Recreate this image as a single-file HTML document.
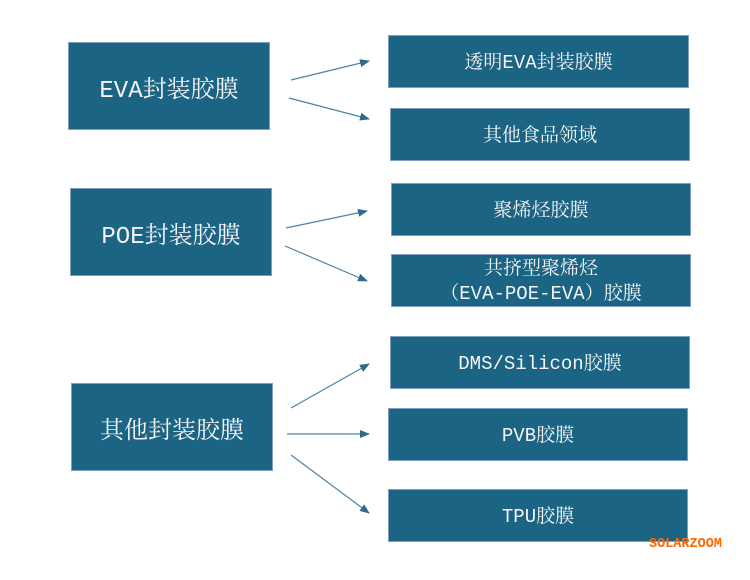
<!DOCTYPE html>
<html><head><meta charset="utf-8"><style>
body{margin:0;width:750px;height:580px;background:#fff;position:relative;overflow:hidden;font-family:"Liberation Mono","Noto Serif CJK SC","Noto Sans CJK SC",monospace;}
.b{position:absolute;background:#1c6484;border:1px solid #7f9fbf;box-sizing:border-box;color:#f4f4f4;display:flex;align-items:center;justify-content:center;text-align:center;padding-top:4px;}
.l{font-size:24px;padding-top:2px;}
.r{font-size:19px;line-height:25px;}
.s{position:absolute;left:649px;top:537px;color:#ff6600;font-family:"Liberation Mono",monospace;font-size:13.5px;font-weight:bold;}
</style></head><body>
<div class="b l" style="left:68px;top:42px;width:202px;height:88px">EVA封装胶膜</div>
<div class="b l" style="left:70px;top:188px;width:202px;height:88px">POE封装胶膜</div>
<div class="b l" style="left:71px;top:383px;width:202px;height:88px">其他封装胶膜</div>
<div class="b r" style="left:388px;top:35px;width:301px;height:53px">透明EVA封装胶膜</div>
<div class="b r" style="left:390px;top:108px;width:300px;height:53px">其他食品领域</div>
<div class="b r" style="left:391px;top:183px;width:300px;height:53px">聚烯烃胶膜</div>
<div class="b r" style="left:391px;top:254px;width:300px;height:53px;padding-top:2px">共挤型聚烯烃<br>（EVA-POE-EVA）胶膜</div>
<div class="b r" style="left:390px;top:336px;width:300px;height:53px">DMS/Silicon胶膜</div>
<div class="b r" style="left:388px;top:408px;width:300px;height:53px">PVB胶膜</div>
<div class="b r" style="left:388px;top:489px;width:300px;height:53px">TPU胶膜</div>
<svg width="750" height="580" style="position:absolute;left:0;top:0">
<defs><marker id="a" markerWidth="10" markerHeight="8" refX="9" refY="4" orient="auto" markerUnits="userSpaceOnUse"><path d="M0,0L10,4L0,8z" fill="#2e6a8a"/></marker></defs>
<g stroke="#4f83a3" stroke-width="1.2" marker-end="url(#a)">
<line x1="291" y1="80" x2="369" y2="61"/>
<line x1="289" y1="98" x2="369" y2="119"/>
<line x1="286" y1="228" x2="367" y2="211"/>
<line x1="285" y1="246" x2="367" y2="281"/>
<line x1="291" y1="408" x2="369" y2="364"/>
<line x1="287" y1="434" x2="369" y2="434"/>
<line x1="291" y1="455" x2="369" y2="513"/>
</g></svg>
<div class="s">SOLARZOOM</div>
</body></html>
